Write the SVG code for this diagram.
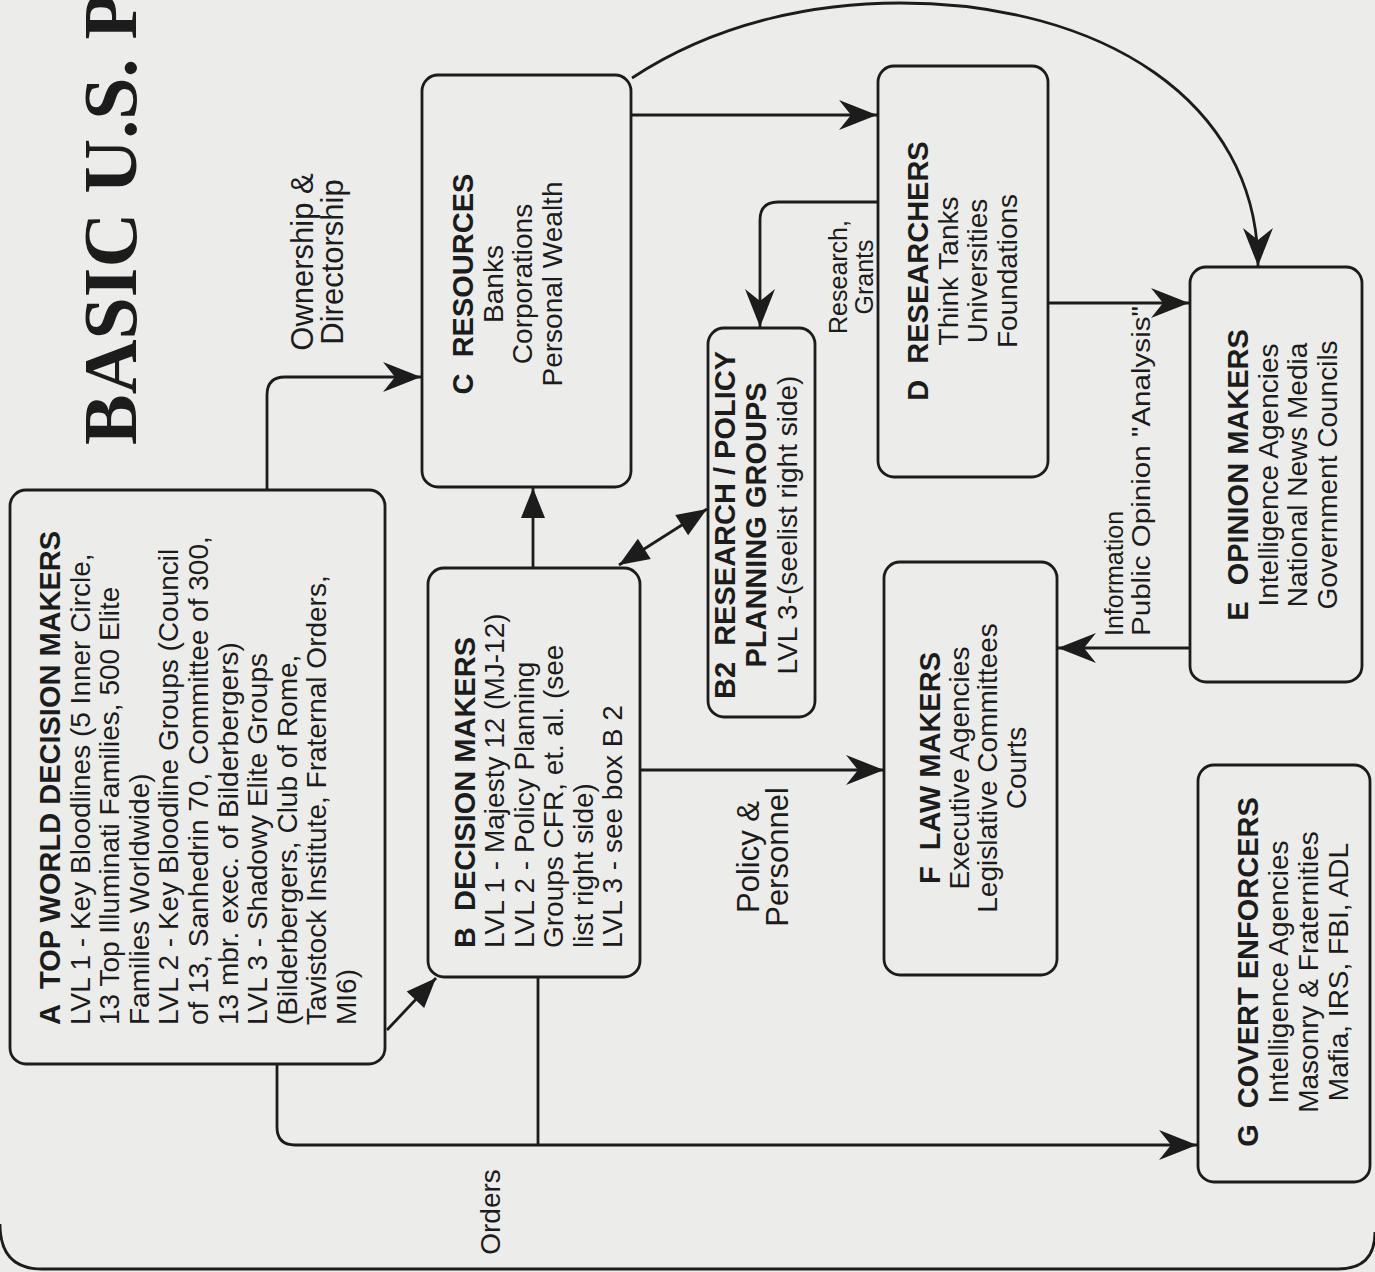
<svg xmlns="http://www.w3.org/2000/svg" width="1375" height="1272" viewBox="0 0 1375 1272">
<style>
.bg{fill:#ececea}
.box{fill:none;stroke:#1c1c1c;stroke-width:2.8}
.con{fill:none;stroke:#1c1c1c;stroke-width:2.8}
text{font-family:"Liberation Sans",Arial,sans-serif;fill:#1c1c1c}
.t{font-size:28px}
.b{font-size:29px;font-weight:bold}
.lbl{font-size:31px}
.ord{font-size:28px}
.sm{font-size:25px}
.title{font-family:"Liberation Serif","Times New Roman",serif;font-size:76px;font-weight:bold}
</style>
<defs>
<marker id="ah" viewBox="-40 -17 42 34" markerWidth="42" markerHeight="34" refX="0" refY="0" orient="auto-start-reverse" markerUnits="userSpaceOnUse">
<path d="M0,0 L-38,-15 L-26,0 L-38,15 Z" fill="#1c1c1c"/>
</marker>
<marker id="tri" viewBox="-32 -14 34 28" markerWidth="34" markerHeight="28" refX="0" refY="0" orient="auto-start-reverse" markerUnits="userSpaceOnUse">
<path d="M0,0 L-30,-12 L-30,12 Z" fill="#1c1c1c"/>
</marker>
</defs>
<rect class="bg" x="0" y="0" width="1375" height="1272"/>
<path class="con" d="M0,1224 Q0,1269 42,1269 H1338 Q1375,1269 1375,1232" stroke-width="3"/>
<text class="title" transform="translate(136,445) rotate(-90)">BASIC U.S. PO</text>

<g id="connectors">
<path class="con" d="M267,490 V395 Q267,377 285,377 H421" marker-end="url(#ah)"/>
<path class="con" d="M387,1030 L436,978" marker-end="url(#tri)"/>
<path class="con" d="M277,1064 V1127 Q277,1145 295,1145 H1197" marker-end="url(#ah)"/>
<path class="con" d="M538,977 V1145"/>
<path class="con" d="M533,568 V488" marker-end="url(#tri)"/>
<path class="con" d="M619,565 L707,509" marker-start="url(#tri)" marker-end="url(#tri)"/>
<path class="con" d="M640,770 H884" marker-end="url(#ah)"/>
<path class="con" d="M630,115 H877" marker-end="url(#ah)"/>
<path class="con" d="M632,78 C720,20 820,3 900,3 C1100,3 1258,100 1258,266" marker-end="url(#ah)"/>
<path class="con" d="M878,202 H778 Q760,202 760,220 V327" marker-end="url(#ah)"/>
<path class="con" d="M1048,303 H1189" marker-end="url(#ah)"/>
<path class="con" d="M1190,648 H1058" marker-end="url(#ah)"/>
<text class="lbl" transform="translate(313,262) rotate(-90)" text-anchor="middle"><tspan x="0" y="0">Ownership &amp;</tspan><tspan x="0" y="30">Directorship</tspan></text>
<text class="sm" transform="translate(847,277) rotate(-90)" text-anchor="middle"><tspan x="0" y="0">Research,</tspan><tspan x="0" y="26">Grants</tspan></text>
<text class="lbl" transform="translate(759,857) rotate(-90)" text-anchor="middle"><tspan x="0" y="0">Policy &amp;</tspan><tspan x="0" y="29">Personnel</tspan></text>
<text class="sm" transform="translate(1123,636) rotate(-90)"><tspan x="0" y="0">Information</tspan><tspan x="0" y="27" textLength="330" lengthAdjust="spacingAndGlyphs">Public Opinion "Analysis"</tspan></text>
<text class="ord" transform="translate(500,1212) rotate(-90)" text-anchor="middle">Orders</text>
</g>

<g id="nodeA">
<rect class="box" x="10" y="490" width="375" height="574" rx="16"/>
<text class="t" transform="translate(60,1025) rotate(-90)" xml:space="preserve"><tspan class="b" x="0" y="0">A  TOP WORLD DECISION MAKERS</tspan><tspan x="0" y="29.6">LVL 1 - Key Bloodlines (5 Inner Circle,</tspan><tspan x="0" y="59.2">13 Top Illuminati Families, 500 Elite</tspan><tspan x="0" y="88.8">Families Worldwide)</tspan><tspan x="0" y="118.4">LVL 2 - Key Bloodline Groups (Council</tspan><tspan x="0" y="148">of 13, Sanhedrin 70, Committee of 300,</tspan><tspan x="0" y="177.6">13 mbr. exec. of Bilderbergers)</tspan><tspan x="0" y="207.2">LVL 3 - Shadowy Elite Groups</tspan><tspan x="0" y="236.8">(Bilderbergers, Club of Rome,</tspan><tspan x="0" y="266.4">Tavistock Institute, Fraternal Orders,</tspan><tspan x="0" y="296">MI6)</tspan></text>
</g>

<g id="nodeB">
<rect class="box" x="428" y="568" width="212" height="409" rx="16"/>
<text class="t" transform="translate(475,948) rotate(-90)" xml:space="preserve"><tspan class="b" x="0" y="0">B  DECISION MAKERS</tspan><tspan x="0" y="29.4">LVL 1 - Majesty 12 (MJ-12)</tspan><tspan x="0" y="58.8">LVL 2 - Policy Planning</tspan><tspan x="0" y="88.2">Groups CFR, et. al. (see</tspan><tspan x="0" y="117.6">list right side)</tspan><tspan x="0" y="147">LVL 3 - see box B 2</tspan></text>
</g>

<g id="nodeB2">
<rect class="box" x="708" y="328" width="107" height="389" rx="16"/>
<text class="t" transform="translate(735,525) rotate(-90)" text-anchor="middle" xml:space="preserve"><tspan class="b" x="0" y="0">B2  RESEARCH / POLICY</tspan><tspan class="b" x="0" y="31">PLANNING GROUPS</tspan><tspan x="0" y="62">LVL 3-(seelist right side)</tspan></text>
</g>

<g id="nodeC">
<rect class="box" x="422" y="75" width="209" height="412" rx="16"/>
<text class="t" transform="translate(473,284) rotate(-90)" text-anchor="middle" xml:space="preserve"><tspan class="b" x="0" y="0">C  RESOURCES</tspan><tspan x="0" y="30">Banks</tspan><tspan x="0" y="59">Corporations</tspan><tspan x="0" y="89">Personal Wealth</tspan></text>
</g>

<g id="nodeD">
<rect class="box" x="878" y="66" width="170" height="411" rx="16"/>
<text class="t" transform="translate(928,271) rotate(-90)" text-anchor="middle" xml:space="preserve"><tspan class="b" x="0" y="0">D  RESEARCHERS</tspan><tspan x="0" y="30">Think Tanks</tspan><tspan x="0" y="59">Universities</tspan><tspan x="0" y="89">Foundations</tspan></text>
</g>

<g id="nodeE">
<rect class="box" x="1190" y="267" width="172" height="415" rx="16"/>
<text class="t" transform="translate(1248,475) rotate(-90)" text-anchor="middle" xml:space="preserve"><tspan class="b" x="0" y="0">E  OPINION MAKERS</tspan><tspan x="0" y="30">Intelligence Agencies</tspan><tspan x="0" y="59">National News Media</tspan><tspan x="0" y="89">Government Councils</tspan></text>
</g>

<g id="nodeF">
<rect class="box" x="884" y="562" width="173" height="413" rx="16"/>
<text class="t" transform="translate(940,768) rotate(-90)" text-anchor="middle" xml:space="preserve"><tspan class="b" x="0" y="0">F  LAW MAKERS</tspan><tspan x="0" y="28.5">Executive Agencies</tspan><tspan x="0" y="57">Legislative Committees</tspan><tspan x="0" y="85.5">Courts</tspan></text>
</g>

<g id="nodeG">
<rect class="box" x="1198" y="765" width="172" height="417" rx="16"/>
<text class="t" transform="translate(1258,972) rotate(-90)" text-anchor="middle" xml:space="preserve"><tspan class="b" x="0" y="0">G  COVERT ENFORCERS</tspan><tspan x="0" y="30">Intelligence Agencies</tspan><tspan x="0" y="60">Masonry &amp; Fraternities</tspan><tspan x="0" y="90">Mafia, IRS, FBI, ADL</tspan></text>
</g>
</svg>
